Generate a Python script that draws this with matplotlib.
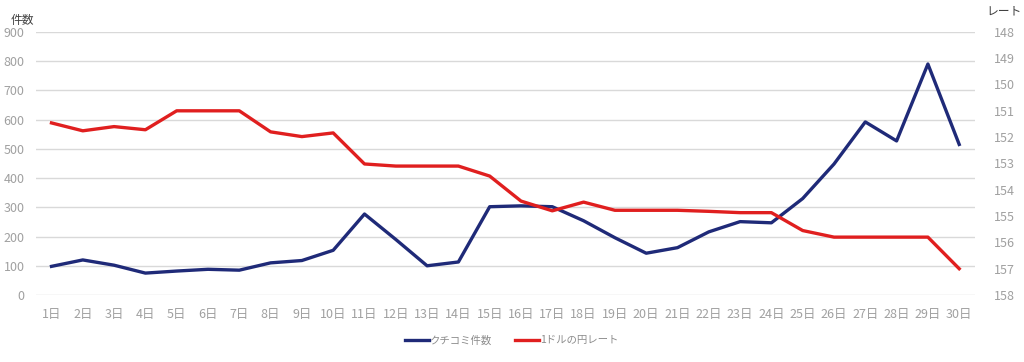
import matplotlib
matplotlib.use("Agg")
import matplotlib.pyplot as plt

plt.rcParams['font.family'] = ['Noto Sans CJK JP', 'DejaVu Sans']

# データ
dias = [f"{i}日" for i in range(1, 31)]
kuchikomi = [98, 120, 102, 75, 82, 88, 85, 110, 118, 153,
             277, 190, 100, 113, 302, 305, 302, 254, 196, 143,
             162, 216, 251, 247, 330, 448, 592, 527, 790, 515]
rate = [151.46, 151.76, 151.6, 151.72, 151.0, 151.0, 151.0, 151.8, 151.98, 151.84,
        153.02, 153.1, 153.1, 153.1, 153.48, 154.43, 154.8, 154.47, 154.78, 154.78,
        154.78, 154.82, 154.87, 154.87, 155.55, 155.8, 155.8, 155.8, 155.8, 157.0]
ticks_izq = list(range(0, 901, 100))
ticks_der = list(range(148, 159))

gris = '#a0a0a0'
x = list(range(1, 31))

fig, ax = plt.subplots(figsize=(10.24, 3.62), dpi=100)
fig.subplots_adjust(left=0.035, right=0.952, top=0.912, bottom=0.185)
ax2 = ax.twinx()

# grilla
for t in ticks_izq:
    ax.axhline(t, color='#d9d9d9', lw=1, zorder=0)

l1, = ax.plot(x, kuchikomi, color='#1f2a78', lw=2.4, zorder=3)
l2, = ax2.plot(x, rate, color='#e01f1f', lw=2.4, zorder=3)

ax.set_xlim(0.5, 30.5)
ax.set_ylim(0, 900)
ax.set_yticks(ticks_izq)
ax2.set_ylim(158, 148)
ax2.set_yticks(ticks_der)
ax.set_xticks(x)
ax.set_xticklabels(dias)

for a in (ax, ax2):
    for s in a.spines.values():
        s.set_visible(False)
    a.tick_params(length=0, colors=gris, labelsize=9)
ax.tick_params(axis='y', pad=8)
ax2.tick_params(axis='y', pad=14)
ax.tick_params(axis='x', pad=9)

ax2.set_zorder(ax.get_zorder() + 1)
ax2.patch.set_visible(False)

fig.text(0.010, 0.935, '件数', fontsize=8.5, color='#404040')
fig.text(0.963, 0.960, 'レート', fontsize=8.5, color='#404040')

fig.legend([l1, l2], ['クチコミ件数', '1ドルの円レート'], loc='lower center',
           bbox_to_anchor=(0.5, 0.02), ncol=2, frameon=False, fontsize=7.5,
           labelcolor='#8c8c8c', handlelength=2.3, handletextpad=0.1, columnspacing=2.2)

fig.savefig('out.png', dpi=100)
